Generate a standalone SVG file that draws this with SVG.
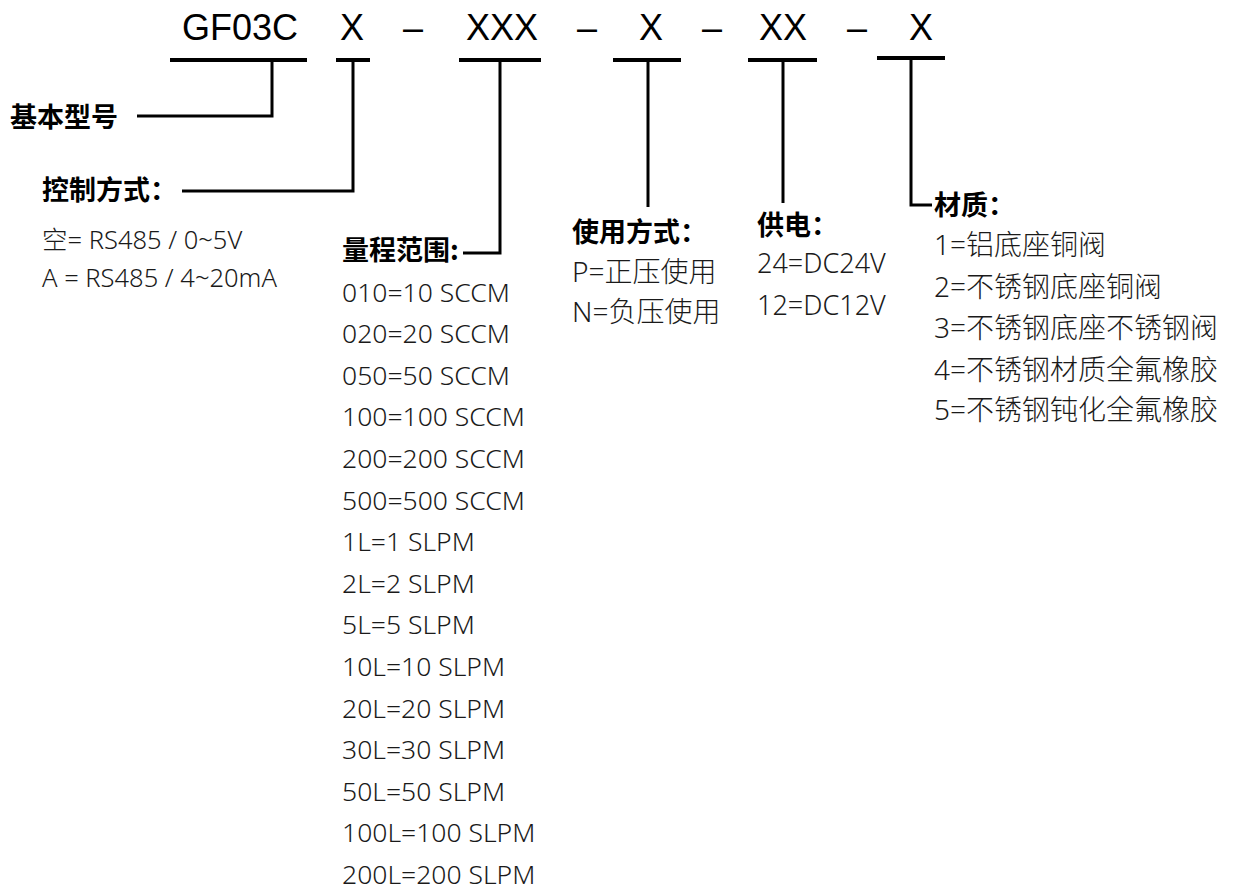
<svg xmlns="http://www.w3.org/2000/svg" width="1237" height="891" viewBox="0 0 1237 891">
<style>
.hd{font-family:"Liberation Sans",Arial,sans-serif;font-size:36px;fill:#000;text-anchor:middle}
.lb{font-family:"Noto Sans CJK SC",sans-serif;font-size:27px;font-weight:bold;fill:#000}
.tx{font-family:"Noto Sans","Noto Sans CJK SC",sans-serif;font-weight:300;fill:#1a1a1a}
.ls{font-size:26.5px}
.cs{font-size:25.5px}
.us{font-size:28px}
.ps{font-size:27px}
.ms{font-size:28px}
.bar{stroke:#000;stroke-width:4;fill:none}
.ln{stroke:#000;stroke-width:3;fill:none}
</style>
<rect width="1237" height="891" fill="#fff"/>
<g id="header">
<text class="hd" x="240" y="40">GF03C</text>
<text class="hd" x="352" y="40">X</text>
<text class="hd" x="413" y="40">–</text>
<text class="hd" x="502" y="40">XXX</text>
<text class="hd" x="587" y="40">–</text>
<text class="hd" x="651" y="40">X</text>
<text class="hd" x="712" y="40">–</text>
<text class="hd" x="783" y="40">XX</text>
<text class="hd" x="857" y="40">–</text>
<text class="hd" x="921" y="40">X</text>
</g>
<g id="connectors">
<line class="bar" x1="170" y1="60" x2="307" y2="60"/>
<polyline class="ln" points="272,60 272,116 137,116"/>
<line class="bar" x1="336" y1="60" x2="370" y2="60"/>
<polyline class="ln" points="353,60 353,191 182,191"/>
<line class="bar" x1="459" y1="60" x2="541" y2="60"/>
<polyline class="ln" points="500,60 500,253 463,253"/>
<line class="bar" x1="613" y1="60" x2="681" y2="60"/>
<line class="ln" x1="648" y1="60" x2="648" y2="207"/>
<line class="bar" x1="748" y1="60" x2="817" y2="60"/>
<line class="ln" x1="783" y1="60" x2="783" y2="203"/>
<line class="bar" x1="877" y1="58" x2="945" y2="58"/>
<polyline class="ln" points="911,58 911,205 932,205"/>
</g>
<g id="base">
<text class="lb" x="10" y="127">基本型号</text>
</g>
<g id="control">
<text class="lb" x="42" y="200">控制方式：</text>
<text class="tx cs" x="42" y="249">空= RS485 / 0~5V</text>
<text class="tx cs" x="42" y="287">A = RS485 / 4~20mA</text>
</g>
<g id="range">
<text class="lb" x="342" y="260">量程范围:</text>
<g class="tx ls">
<text x="342" y="301.5">010=10 SCCM</text>
<text x="342" y="343.1">020=20 SCCM</text>
<text x="342" y="384.7">050=50 SCCM</text>
<text x="342" y="426.3">100=100 SCCM</text>
<text x="342" y="467.9">200=200 SCCM</text>
<text x="342" y="509.5">500=500 SCCM</text>
<text x="342" y="551.1">1L=1 SLPM</text>
<text x="342" y="592.7">2L=2 SLPM</text>
<text x="342" y="634.3">5L=5 SLPM</text>
<text x="342" y="675.9">10L=10 SLPM</text>
<text x="342" y="717.5">20L=20 SLPM</text>
<text x="342" y="759.1">30L=30 SLPM</text>
<text x="342" y="800.7">50L=50 SLPM</text>
<text x="342" y="842.3">100L=100 SLPM</text>
<text x="342" y="883.9">200L=200 SLPM</text>
</g>
</g>
<g id="usage">
<text class="lb" x="572" y="242">使用方式：</text>
<text class="tx us" x="572" y="282">P=正压使用</text>
<text class="tx us" x="572" y="322">N=负压使用</text>
</g>
<g id="power">
<text class="lb" x="757" y="235">供电：</text>
<text class="tx ps" x="757" y="273">24=DC24V</text>
<text class="tx ps" x="757" y="315">12=DC12V</text>
</g>
<g id="material">
<text class="lb" x="934" y="215">材质：</text>
<text class="tx ms" x="934" y="255">1=铝底座铜阀</text>
<text class="tx ms" x="934" y="297">2=不锈钢底座铜阀</text>
<text class="tx ms" x="934" y="338">3=不锈钢底座不锈钢阀</text>
<text class="tx ms" x="934" y="380">4=不锈钢材质全氟橡胶</text>
<text class="tx ms" x="934" y="420">5=不锈钢钝化全氟橡胶</text>
</g>
</svg>
